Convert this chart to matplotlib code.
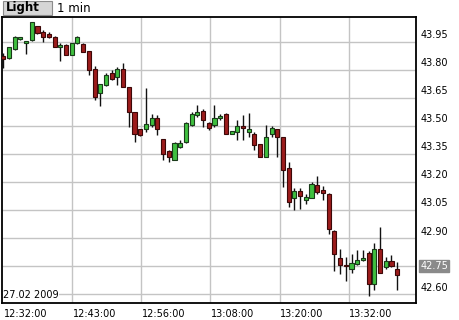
import matplotlib
matplotlib.use("Agg")
import matplotlib.pyplot as plt
from matplotlib.patches import Rectangle

opens = [43.870, 43.860, 43.908, 43.962, 43.940, 43.958, 44.033, 44.001, 43.990, 43.972,
         43.919, 43.933, 43.879, 43.940, 43.935, 43.899, 43.801, 43.676, 43.717, 43.783,
         43.758, 43.801, 43.708, 43.574, 43.480, 43.480, 43.503, 43.539, 43.428, 43.365,
         43.319, 43.387, 43.413, 43.503, 43.556, 43.578, 43.515, 43.503, 43.539, 43.565,
         43.458, 43.467, 43.499, 43.467, 43.458, 43.401, 43.333, 43.455, 43.481, 43.437,
         43.276, 43.116, 43.151, 43.101, 43.116, 43.181, 43.155, 43.137, 42.937, 42.794,
         42.755, 42.735, 42.758, 42.780, 42.819, 42.651, 42.842, 42.744, 42.774, 42.735]
highs = [43.890, 43.920, 43.979, 43.975, 43.952, 44.054, 44.034, 44.012, 43.999, 43.981,
         43.940, 43.934, 43.941, 43.979, 43.944, 43.900, 43.819, 43.722, 43.780, 43.797,
         43.815, 43.833, 43.709, 43.575, 43.481, 43.699, 43.562, 43.556, 43.429, 43.369,
         43.413, 43.422, 43.520, 43.574, 43.610, 43.587, 43.519, 43.610, 43.565, 43.566,
         43.472, 43.530, 43.556, 43.569, 43.467, 43.402, 43.503, 43.497, 43.482, 43.438,
         43.306, 43.169, 43.169, 43.137, 43.199, 43.230, 43.176, 43.138, 42.944, 42.842,
         42.797, 42.812, 42.837, 42.833, 42.829, 42.874, 42.958, 42.797, 42.806, 42.771]
lows = [43.810, 43.858, 43.906, 43.960, 43.881, 43.955, 43.989, 43.949, 43.967, 43.918,
        43.847, 43.877, 43.877, 43.939, 43.894, 43.771, 43.637, 43.605, 43.712, 43.743,
        43.717, 43.707, 43.494, 43.413, 43.447, 43.467, 43.494, 43.449, 43.319, 43.306,
        43.315, 43.378, 43.405, 43.497, 43.547, 43.494, 43.476, 43.494, 43.530, 43.457,
        43.455, 43.426, 43.426, 43.440, 43.369, 43.332, 43.332, 43.440, 43.333, 43.172,
        43.065, 43.047, 43.057, 43.083, 43.115, 43.137, 43.101, 42.923, 42.722, 42.705,
        42.669, 42.712, 42.753, 42.776, 42.587, 42.623, 42.711, 42.735, 42.744, 42.623]
closes = [43.855, 43.919, 43.972, 43.972, 43.951, 44.053, 43.997, 43.972, 43.976, 43.919,
          43.933, 43.879, 43.940, 43.974, 43.895, 43.797, 43.654, 43.721, 43.769, 43.748,
          43.801, 43.708, 43.574, 43.458, 43.448, 43.508, 43.539, 43.480, 43.347, 43.333,
          43.405, 43.405, 43.515, 43.565, 43.571, 43.530, 43.485, 43.539, 43.553, 43.458,
          43.471, 43.499, 43.485, 43.480, 43.399, 43.333, 43.437, 43.485, 43.437, 43.265,
          43.092, 43.151, 43.122, 43.119, 43.187, 43.146, 43.140, 42.949, 42.816, 42.753,
          42.750, 42.765, 42.783, 42.794, 42.655, 42.842, 42.712, 42.774, 42.748, 42.703]

y_ticks = [43.95, 43.80, 43.65, 43.50, 43.35, 43.20, 43.05, 42.90, 42.75, 42.60]
y_tick_labels = ["43.95", "43.80", "43.65", "43.50", "43.35", "43.20", "43.05", "42.90", "", "42.60"]
x_tick_labels = ["12:32:00", "12:43:00", "12:56:00", "13:08:00", "13:20:00", "13:32:00"]
last_label = "42.75"
last_value = 42.75
date_text = "27.02 2009"

W, H = 460, 320
fig = plt.figure(figsize=(W / 100, H / 100), dpi=100)
fig.patch.set_facecolor("white")

ax_l, ax_r, ax_t, ax_b = 2, 416, 17, 303
ax = fig.add_axes([ax_l / W, 1 - ax_b / H, (ax_r - ax_l) / W, (ax_b - ax_t) / H])
ax.set_facecolor("white")

pitch = 5.71
x0 = -(3.2 - ax_l) / pitch
x1 = (ax_r - 3.2) / pitch
ax.set_xlim(x0, x1)
ax.set_ylim(42.552, 44.081)

# grid
grid_step = 12.1
gx = [grid_step * k for k in range(1, 6)]
for g in gx:
    ax.axvline(g, color="#c4c4c4", lw=1.0, zorder=0)
for yv in y_ticks:
    ax.axhline(yv, color="#c4c4c4", lw=1.0, zorder=0)

bw = 0.72
for i, (o, h, l, c) in enumerate(zip(opens, highs, lows, closes)):
    up = c >= o
    face = "#3fbf3f" if up else "#9c1c1c"
    edge = "#1a3a1a" if up else "#3c0808"
    ax.vlines(i, l, h, color="#111111", lw=1.0, zorder=2)
    lo, hi = min(o, c), max(o, c)
    ax.add_patch(Rectangle((i - bw / 2, lo), bw, max(hi - lo, 0.004),
                           facecolor=face, edgecolor=edge, lw=0.8, zorder=3))

ax.set_xticks([])
ax.set_yticks([])
for s in ax.spines.values():
    s.set_color("black")
    s.set_linewidth(1.3)

# y labels on the right
for yv, lab in zip(y_ticks, y_tick_labels):
    if lab:
        ax.annotate(lab, xy=(1, yv), xycoords=("axes fraction", "data"),
                    xytext=(3, 1), textcoords="offset points",
                    ha="left", va="bottom", fontsize=7, color="black")

ax.annotate(last_label, xy=(1, last_value), xycoords=("axes fraction", "data"),
            xytext=(3, 0), textcoords="offset points",
            ha="left", va="center", fontsize=7, color="white",
            bbox=dict(boxstyle="square,pad=0.15", fc="#8a8a8a", ec="#8a8a8a"))

# x labels
xpos = [0] + gx
for xv, lab in zip(xpos, x_tick_labels):
    ax.annotate(lab, xy=(xv, 0), xycoords=("data", "axes fraction"),
                xytext=(0.5, -4), textcoords="offset points",
                ha="left", va="top", fontsize=7, color="black")

ax.text(0.003, 0.012, date_text, transform=ax.transAxes, fontsize=7,
        ha="left", va="bottom", color="black", zorder=5,
        bbox=dict(boxstyle="square,pad=0.05", fc="white", ec="none"))

# header
fig.patches.append(Rectangle((3 / W, 1 - 15 / H), 49 / W, 14 / H, transform=fig.transFigure,
                             facecolor="#d6d6d6", edgecolor="#8c8c8c", lw=0.8))
fig.text(6 / W, 1 - 8 / H, "Light", fontsize=8.5, fontweight="bold", ha="left", va="center")
fig.text(57 / W, 1 - 8 / H, "1 min", fontsize=8.5, ha="left", va="center")

fig.savefig("out.png", dpi=100)
